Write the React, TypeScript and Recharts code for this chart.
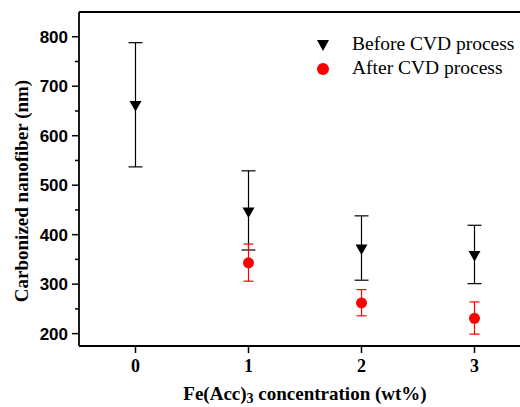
import React from 'react';
import { ScatterChart, Scatter, XAxis, YAxis, ErrorBar, ReferenceLine, Legend } from 'recharts';

// concentration categories (wt%)
const beforeConc = [0, 1, 2, 3];
const beforeMean = [660, 445, 370, 357];
const beforeErrUp = [128, 84, 68, 62];
const beforeErrDown = [123, 76, 62, 56];

const afterConc = [1, 2, 3];
const afterMean = [343, 262, 231];
const afterErrUp = [38, 27, 33];
const afterErrDown = [37, 26, 32];

const xTicks = [0, 1, 2, 3];
const yTicks = [200, 250, 300, 350, 400, 450, 500, 550, 600, 650, 700, 750, 800];

const seriesNames = ['Before CVD process', 'After CVD process'];
const xTitle = ['Fe(Acc)', '3', ' concentration (wt%)'];
const yTitle = 'Carbonized nanofiber (nm)';

const beforeData = beforeConc.map((x, i) => ({ x, y: beforeMean[i], err: [beforeErrDown[i], beforeErrUp[i]] }));
const afterData = afterConc.map((x, i) => ({ x, y: afterMean[i], err: [afterErrDown[i], afterErrUp[i]] }));

const SERIF = '"Liberation Serif", "Times New Roman", serif';
const SANS = '"Liberation Sans", Arial, sans-serif';

const TriangleDown = (props: any) => {
  const { cx, cy } = props;
  if (cx == null || cy == null) return null;
  return <polygon points={`${cx - 6},${cy - 5} ${cx + 6},${cy - 5} ${cx},${cy + 5.5}`} fill="#000" />;
};

const RedDot = (props: any) => {
  const { cx, cy } = props;
  if (cx == null || cy == null) return null;
  return <circle cx={cx} cy={cy} r={5.5} fill="#ff0000" />;
};

const YTick = (props: any) => {
  const { x, y, payload } = props;
  const major = payload.value % 100 === 0;
  return (
    <g>
      <line x1={x - (major ? 7 : 4)} x2={x} y1={y} y2={y} stroke="#000" strokeWidth={1.5} />
      {major && (
        <text x={x - 11} y={y} dy={6} textAnchor="end" fontFamily={SANS} fontWeight="bold" fontSize={17} fill="#000">
          {payload.value}
        </text>
      )}
    </g>
  );
};

const XTick = (props: any) => {
  const { x, y, payload } = props;
  return (
    <g>
      <line x1={x} x2={x} y1={y} y2={y + 7} stroke="#000" strokeWidth={1.5} />
      <text x={x} y={y + 26} textAnchor="middle" fontFamily={SERIF} fontWeight="bold" fontSize={18} fill="#000">
        {payload.value}
      </text>
    </g>
  );
};

const XLabel = (props: any) => {
  const vb = props.viewBox || {};
  const cx = vb.x + vb.width / 2;
  return (
    <text x={cx} y={vb.y + 54} textAnchor="middle" fontFamily={SERIF} fontWeight="bold" fontSize={19} fill="#000">
      <tspan>{xTitle[0]}</tspan>
      <tspan dy={3} fontSize={14}>{xTitle[1]}</tspan>
      <tspan dy={-3}>{xTitle[2]}</tspan>
    </text>
  );
};

const YLabel = (props: any) => {
  const vb = props.viewBox || {};
  const x = vb.x + 28;
  const y = vb.y + vb.height / 2 + 12;
  return (
    <text x={x} y={y} transform={`rotate(-90 ${x} ${y})`} textAnchor="middle" fontFamily={SERIF} fontWeight="bold" fontSize={19} fill="#000">
      {yTitle}
    </text>
  );
};

const LegendContent = () => (
  <svg width={215} height={52} style={{ display: 'block', overflow: 'visible' }}>
    <polygon points="7,10 19,10 13,21" fill="#000" />
    <text x={42} y={20} fontFamily={SERIF} fontSize={19.5} fill="#000">{seriesNames[0]}</text>
    <circle cx={13} cy={39} r={6} fill="#ff0000" />
    <text x={42} y={44} fontFamily={SERIF} fontSize={19.5} fill="#000">{seriesNames[1]}</text>
  </svg>
);

export default function App() {
  return (
    <div style={{ position: 'fixed', left: 0, top: 0, width: 520, height: 407, overflow: 'hidden', background: '#fff' }}>
      <ScatterChart width={560} height={407} margin={{ top: 12, right: 29, left: 0, bottom: 0 }}>
        <XAxis
          dataKey="x"
          type="number"
          domain={[-0.5, 3.5]}
          ticks={xTicks}
          interval={0}
          height={61}
          tickSize={0}
          tickMargin={0}
          tickLine={false}
          tick={<XTick />}
          axisLine={{ stroke: '#000', strokeWidth: 1.8 }}
          label={<XLabel />}
        />
        <YAxis
          dataKey="y"
          type="number"
          domain={[175, 850]}
          ticks={yTicks}
          interval={0}
          width={79}
          tickSize={0}
          tickMargin={0}
          tickLine={false}
          tick={<YTick />}
          axisLine={{ stroke: '#000', strokeWidth: 1.8 }}
          label={<YLabel />}
        />
        <ReferenceLine y={850} stroke="#000" strokeWidth={1.8} ifOverflow="extendDomain" />
        <Legend
          layout="vertical"
          align="center"
          verticalAlign="middle"
          content={<LegendContent />}
          wrapperStyle={{ left: 310, top: 30, width: 215, height: 52 }}
        />
        <Scatter name={seriesNames[0]} data={beforeData} shape={<TriangleDown />} isAnimationActive={false}>
          <ErrorBar dataKey="err" direction="y" width={7} stroke="#000" strokeWidth={1.2} />
        </Scatter>
        <Scatter name={seriesNames[1]} data={afterData} shape={<RedDot />} isAnimationActive={false}>
          <ErrorBar dataKey="err" direction="y" width={5} stroke="#ff0000" strokeWidth={1.2} />
        </Scatter>
      </ScatterChart>
    </div>
  );
}
